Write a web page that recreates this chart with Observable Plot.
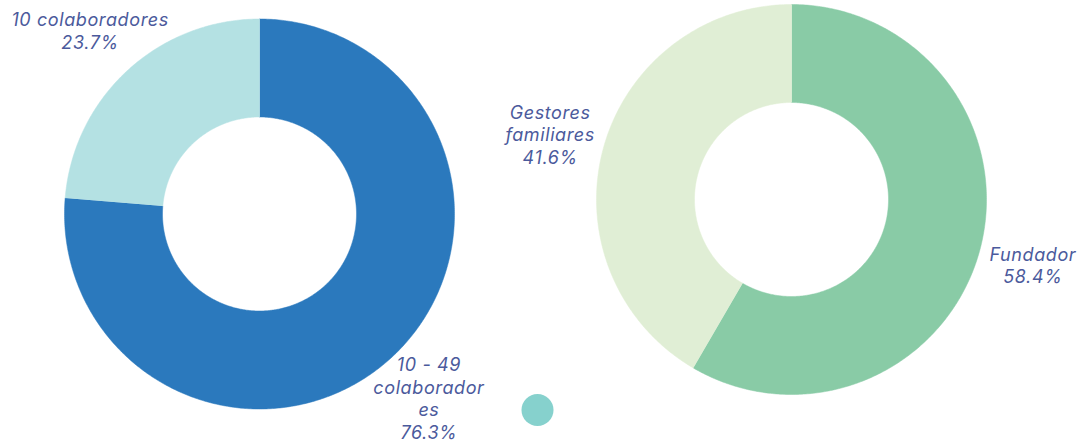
<!DOCTYPE html>
<html>
<head>
<meta charset="utf-8">
<script src="https://cdn.jsdelivr.net/npm/d3@7"></script>
<script src="https://cdn.jsdelivr.net/npm/@observablehq/plot@0.6"></script>
<style>
  html, body { margin: 0; padding: 0; background: #ffffff; }
  #chart { width: 1081px; height: 448px; overflow: hidden; }
</style>
</head>
<body>
<div id="chart"></div>
<script>
// ---- data ----
const leftCategories = ["10 - 49 colaboradores", "10 colaboradores"];
const leftValues = [76.3, 23.7];
const leftLabelLines = [["10 - 49", "colaborador", "es"], ["10 colaboradores"]];
const leftColors = ["#2b79bd", "#b4e1e3"];

const rightCategories = ["Fundador", "Gestores familiares"];
const rightValues = [58.4, 41.6];
const rightLabelLines = [["Fundador"], ["Gestores", "familiares"]];
const rightColors = ["#89cba6", "#e0eed5"];

const legendColors = ["#86d1cd"];

// ---- layout ----
const W = 1081, H = 448;
const outerR = 195, innerR = 97, labelR = 250;
const fontSize = 18, lineHeight = 22.5 / 18;
const donuts = [
  {cats: leftCategories, vals: leftValues, lines: leftLabelLines, colors: leftColors, cx: 259, cy: 213.5},
  {cats: rightCategories, vals: rightValues, lines: rightLabelLines, colors: rightColors, cx: 791, cy: 199}
];

const polys = [];
const labels = [];
donuts.forEach((dn, di) => {
  const arcs = d3.pie().sort(null).value(d => d.v)(dn.cats.map((c, i) => ({c, v: dn.vals[i], i})));
  arcs.forEach(a => {
    const key = di + "-" + a.data.i;
    const color = dn.colors[a.data.i];
    const n = Math.max(2, Math.ceil((a.endAngle - a.startAngle) / 0.01));
    const pts = [];
    for (let t = 0; t <= n; t++) {
      const ang = a.startAngle + (a.endAngle - a.startAngle) * t / n;
      pts.push({x: dn.cx + outerR * Math.sin(ang), y: dn.cy - outerR * Math.cos(ang)});
    }
    for (let t = n; t >= 0; t--) {
      const ang = a.startAngle + (a.endAngle - a.startAngle) * t / n;
      pts.push({x: dn.cx + innerR * Math.sin(ang), y: dn.cy - innerR * Math.cos(ang)});
    }
    pts.forEach(p => polys.push({...p, key, color}));
    // label at mid-angle, outside the ring
    const mid = (a.startAngle + a.endAngle) / 2;
    labels.push({
      x: dn.cx + labelR * Math.sin(mid),
      y: dn.cy - labelR * Math.cos(mid),
      text: [...dn.lines[a.data.i], a.data.v.toFixed(1) + "%"].join("\n")
    });
  });
});

const legend = legendColors.map(c => ({x: 537, y: 409.5, color: c}));

const chart = Plot.plot({
  width: W,
  height: H,
  margin: 0,
  style: {background: "#ffffff", letterSpacing: "0.6px"},
  x: {domain: [0, W], range: [0, W], axis: null},
  y: {domain: [0, H], range: [0, H], axis: null},
  color: {type: "identity"},
  marks: [
    Plot.line(polys, {x: "x", y: "y", z: "key", fill: "color", stroke: "color", strokeWidth: 0.5, curve: "linear"}),
    Plot.dot(legend, {x: "x", y: "y", r: 16, fill: "color", stroke: null}),
    Plot.text(labels, {x: "x", y: "y", text: "text", lineHeight, fontFamily: "Inter", fontStyle: "italic", fontSize, fill: "#4b5a9c"})
  ]
});
document.getElementById("chart").appendChild(chart);
</script>
</body>
</html>
